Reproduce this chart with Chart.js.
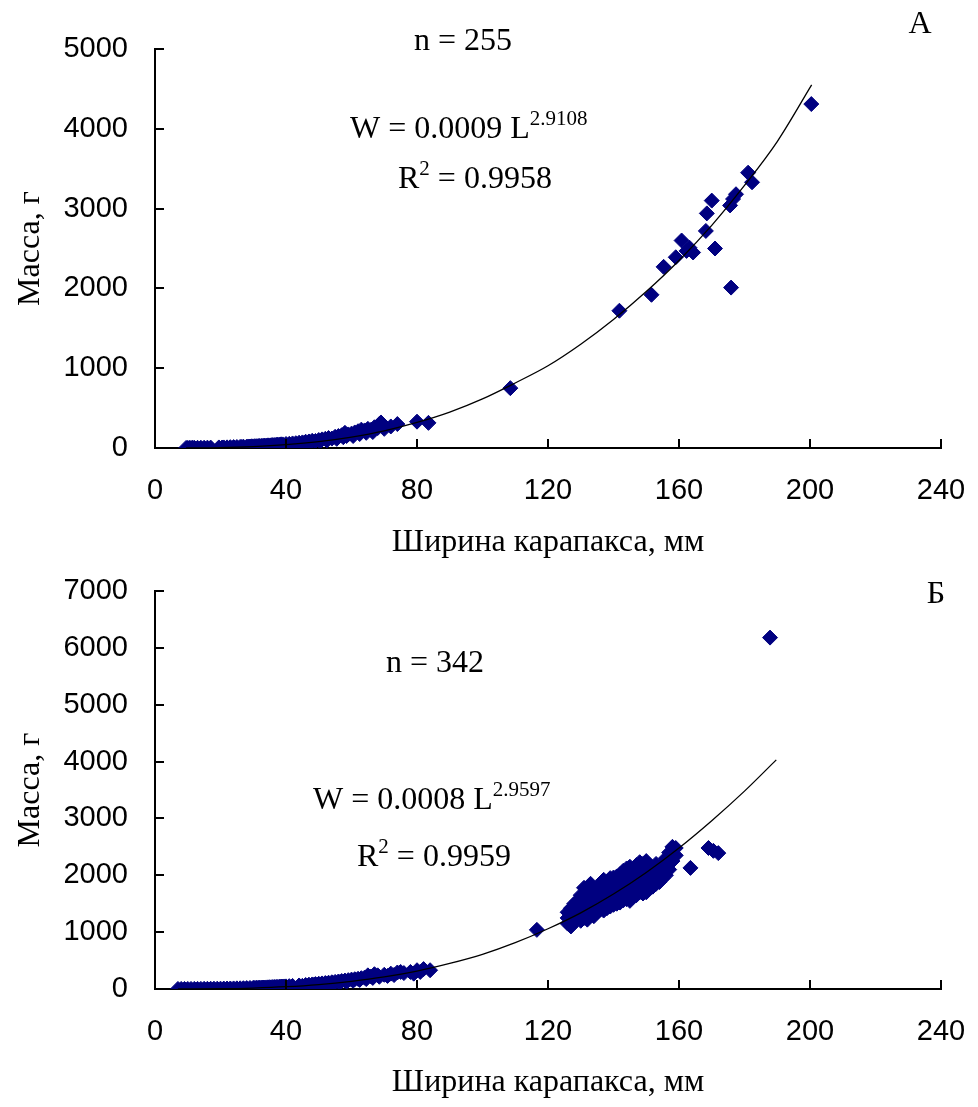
<!DOCTYPE html>
<html>
<head>
<meta charset="utf-8">
<script src="https://cdn.jsdelivr.net/npm/chart.js@4.4.0/dist/chart.umd.min.js"></script>
<style>
  html, body { margin: 0; padding: 0; background: #fff; }
  canvas { display: block; }
</style>
</head>
<body>
<canvas id="chartA" width="978" height="565"></canvas>
<canvas id="chartB" width="978" height="542"></canvas>
<script>
// Panel А: carapace width (mm) vs mass (g), n = 255
const widthA = [
  9.5, 10, 10.5, 11, 11.5, 12, 13, 14, 15, 16,
  17, 19.5, 20.5, 21, 22, 23, 24, 25, 26, 26.5,
  27, 28, 28.5, 29, 29.5, 30, 30.5, 31, 31.5, 32,
  32.5, 33, 33.5, 34, 34.5, 35, 35.5, 36, 36.5, 37,
  37.5, 38, 38.5, 39, 40, 41, 42, 43, 44, 45,
  45.5, 46, 47, 47.5, 48, 49, 50, 50.5, 51, 52,
  52.5, 53, 54, 55, 55.5, 56, 57, 57.5, 58, 58.5,
  59, 60, 60.5, 61, 62, 62.5, 63, 64, 64.5, 65,
  66, 66.5, 67, 68, 68.5, 69, 70, 72, 74, 80,
  83.5, 108.5, 141.8, 151.6, 155.3, 159, 160.8, 163.2, 164.3, 162.3,
  168.2, 168.5, 170, 171, 175.9, 175.6, 176.5, 177.4, 181.1, 182.3,
  200.4
];
const massA = [
  1, 1, 1, 1, 2, 2, 2, 3, 3, 4,
  5, 7, 6, 7, 8, 10, 11, 12, 14, 13,
  16, 17, 19, 18, 21, 20, 23, 22, 24, 26,
  25, 28, 30, 29, 33, 32, 35, 37, 36, 40,
  42, 41, 46, 45, 50, 52, 57, 60, 66, 70,
  60, 78, 82, 70, 90, 88, 100, 85, 108, 115,
  95, 125, 118, 140, 115, 150, 160, 135, 190, 150,
  170, 180, 150, 195, 210, 175, 230, 220, 190, 240,
  230, 200, 260, 250, 300, 320, 240, 270, 300, 330,
  315, 750, 1720, 1920, 2270, 2390, 2600, 2510, 2450, 2470,
  2720, 2940, 3100, 2500, 2010, 3040, 3120, 3180, 3450, 3330,
  4310
];
// power trend W = 0.0009 L^2.9108
const trendWidthA = [9.5, 20, 30, 40, 50, 60, 70, 80, 90, 100, 110, 120, 130, 140, 150, 160, 170, 180, 190, 200.5];
const trendMassA  = [1, 5, 18, 42, 80, 137, 215, 320, 450, 615, 815, 1030, 1300, 1610, 1960, 2350, 2790, 3290, 3840, 4550];

// Panel Б: n = 342
const widthB = [
  7, 8, 9, 10, 11, 12, 13, 14, 15, 16,
  17, 18, 19, 20, 21, 22, 23, 24, 25, 26,
  27, 28, 29, 30, 30.5, 31, 31.5, 32, 32.5, 33,
  33.5, 34, 34.5, 35, 35.5, 36, 36.5, 37, 37.5, 38,
  38.5, 39, 39.5, 40, 41, 42, 44, 45, 46, 47,
  48, 48.5, 49, 50, 50.5, 51, 52, 52.5, 53, 54,
  54.5, 55, 56, 56.5, 57, 58, 58.5, 59, 60, 60.5,
  61, 62, 62.5, 63, 64, 64.5, 65, 66, 66.5, 67,
  68, 68.5, 70, 71, 72, 73, 74, 75, 76, 78,
  79, 80, 81, 82, 84, 116.6,
  163.5, 169, 170.5, 172, 187.8
];
const massB = [
  1, 1, 1, 1, 1, 2, 2, 2, 3, 3,
  4, 5, 5, 6, 7, 8, 9, 10, 11, 12,
  14, 16, 18, 20, 19, 22, 21, 24, 23, 26,
  25, 28, 29, 31, 30, 34, 33, 37, 36, 40,
  42, 43, 45, 46, 50, 54, 62, 55, 70, 76,
  80, 72, 86, 92, 80, 98, 104, 90, 110, 118,
  100, 125, 132, 120, 140, 148, 130, 156, 165, 145,
  172, 180, 160, 190, 200, 175, 240, 220, 195, 260,
  240, 215, 250, 230, 270, 245, 290, 300, 280, 300,
  270, 330, 300, 350, 330, 1040,
  2130, 2480, 2430, 2390, 6180
];
// dense group of large crabs, 126–159 mm
const clusterWidthB = [126, 127, 128, 129, 130, 131, 132, 133, 134, 135, 136, 137, 138, 139, 140, 141, 142,
  143, 144, 145, 146, 147, 148, 149, 150, 151, 152, 153, 154, 155, 156, 157, 158, 159];
const clusterMassB = [
  [1150, 1250, 1350],
  [1100, 1200, 1300, 1420],
  [1180, 1280, 1380, 1500],
  [1250, 1350, 1450, 1550],
  [1200, 1300, 1400, 1520, 1650],
  [1250, 1350, 1480, 1600, 1780],
  [1220, 1320, 1420, 1550, 1700],
  [1300, 1400, 1500, 1620, 1760, 1850],
  [1280, 1380, 1480, 1580, 1700],
  [1350, 1450, 1560, 1680, 1800],
  [1400, 1500, 1600, 1720, 1850],
  [1380, 1480, 1580, 1700, 1820, 1920],
  [1420, 1520, 1640, 1760, 1880],
  [1450, 1560, 1680, 1800, 1950],
  [1480, 1600, 1720, 1840, 1960],
  [1500, 1620, 1740, 1860, 1980],
  [1520, 1650, 1780, 1900, 2020],
  [1560, 1680, 1800, 1920, 2080],
  [1580, 1700, 1820, 1950, 2120],
  [1550, 1680, 1800, 1930, 2060, 2150],
  [1620, 1750, 1880, 2000],
  [1650, 1780, 1900, 2040, 2180],
  [1700, 1820, 1940, 2080, 2230],
  [1680, 1800, 1920, 2050, 2200],
  [1700, 1850, 1980, 2120, 2250],
  [1780, 1900, 2050, 2180],
  [1800, 1950, 2080],
  [1850, 1980, 2100, 2200],
  [1880, 2000, 2150],
  [1950, 2050, 2180],
  [2000, 2150, 2300],
  [2100, 2250, 2400],
  [2250, 2380, 2500],
  [2350, 2480]
];
// power trend W = 0.0008 L^2.9597
const trendWidthB = [7, 20, 30, 40, 50, 60, 70, 80, 90, 100, 110, 120, 130, 140, 150, 160, 170, 180, 189.7];
const trendMassB  = [0, 5, 17, 40, 78, 135, 212, 315, 450, 610, 815, 1060, 1340, 1670, 2050, 2480, 2960, 3480, 4030];

const xTicks = [0, 40, 80, 120, 160, 200, 240];

const NAVY = '#000080';
const SERIF = '"Liberation Serif", "Times New Roman", serif';
const SANS = '"Liberation Sans", Arial, sans-serif';

function pairs(xs, ys) {
  return xs.map((x, i) => ({x: x, y: ys[i]}));
}

// tick marks point into the plot area
const inwardTicks = {
  id: 'inwardTicks',
  afterDraw(chart) {
    const {ctx, chartArea, scales} = chart;
    ctx.save();
    ctx.strokeStyle = '#000';
    ctx.lineWidth = 2;
    ctx.beginPath();
    scales.x.ticks.forEach(t => {
      const px = Math.round(scales.x.getPixelForValue(t.value));
      ctx.moveTo(px, chartArea.bottom);
      ctx.lineTo(px, chartArea.bottom - 9);
    });
    scales.y.ticks.forEach(t => {
      const py = Math.round(scales.y.getPixelForValue(t.value));
      ctx.moveTo(chartArea.left, py);
      ctx.lineTo(chartArea.left + 9, py);
    });
    ctx.stroke();
    ctx.restore();
  }
};

// free text: sample size, fitted equation, panel letter
const notes = {
  id: 'notes',
  afterDraw(chart, args, opts) {
    const ctx = chart.ctx;
    const main = '32px ' + SERIF;
    const small = '21px ' + SERIF;
    ctx.save();
    ctx.fillStyle = '#000';
    ctx.textBaseline = 'alphabetic';
    ctx.textAlign = 'left';
    (opts.items || []).forEach(item => {
      let total = 0;
      item.parts.forEach(p => {
        ctx.font = p[1] ? small : main;
        total += ctx.measureText(p[0]).width;
      });
      let x = item.align === 'center' ? item.x - total / 2 : item.x;
      item.parts.forEach(p => {
        ctx.font = p[1] ? small : main;
        ctx.fillText(p[0], x, p[1] ? item.y - 13 : item.y);
        x += ctx.measureText(p[0]).width;
      });
    });
    ctx.restore();
  }
};

function makeChart(id, points, trend, yMax, area, xTitlePad, noteItems) {
  const canvas = document.getElementById(id);
  const H = canvas.height;
  return new Chart(canvas, {
    type: 'scatter',
    data: {
      datasets: [
        {
          type: 'line',
          data: trend,
          borderColor: '#000',
          borderWidth: 1.3,
          pointRadius: 0,
          fill: false,
          cubicInterpolationMode: 'monotone',
          order: 0
        },
        {
          data: points,
          pointStyle: 'rectRot',
          pointRadius: 7.5,
          backgroundColor: NAVY,
          borderColor: NAVY,
          borderWidth: 1,
          order: 1
        }
      ]
    },
    options: {
      responsive: false,
      animation: false,
      layout: { padding: { top: area.top, right: 978 - area.right, left: 0, bottom: 0 } },
      plugins: {
        legend: { display: false },
        tooltip: { enabled: false },
        notes: { items: noteItems }
      },
      scales: {
        x: {
          type: 'linear',
          min: 0,
          max: 240,
          afterBuildTicks: scale => { scale.ticks = xTicks.map(v => ({value: v})); },
          afterFit: scale => {
            scale.height = H - area.bottom;
            scale.paddingLeft = 0;
            scale.paddingRight = 0;
          },
          grid: { display: false, drawTicks: false },
          border: { display: true, color: '#000', width: 2 },
          ticks: { color: '#000', padding: 26, font: { family: SANS, size: 29 }, callback: v => String(v) },
          title: {
            display: true,
            text: 'Ширина карапакса, мм',
            color: '#000',
            font: { family: SERIF, size: 32 },
            padding: { top: 0, bottom: xTitlePad }
          }
        },
        y: {
          min: 0,
          max: yMax,
          afterFit: scale => {
            scale.width = area.left;
            scale.paddingTop = 0;
            scale.paddingBottom = 0;
          },
          grid: { display: false, drawTicks: false },
          border: { display: true, color: '#000', width: 2 },
          ticks: { color: '#000', stepSize: 1000, padding: 27, font: { family: SANS, size: 29 }, callback: v => String(v) },
          title: {
            display: true,
            text: 'Масса, г',
            color: '#000',
            font: { family: SERIF, size: 32 },
            padding: { top: 11, bottom: 0 }
          }
        }
      }
    },
    plugins: [inwardTicks, notes]
  });
}

const pointsA = pairs(widthA, massA);
const pointsB = pairs(widthB, massB);
clusterWidthB.forEach((w, i) => {
  clusterMassB[i].forEach(m => pointsB.push({x: w, y: m}));
});

makeChart('chartA', pointsA, pairs(trendWidthA, trendMassA), 5000,
  { left: 155, right: 941, top: 49, bottom: 448 }, 3, [
    { x: 463, y: 50, align: 'center', parts: [['n = 255']] },
    { x: 350, y: 138, parts: [['W = 0.0009 L'], ['2.9108', true]] },
    { x: 398, y: 188, parts: [['R'], ['2', true], [' = 0.9958']] },
    { x: 920, y: 33, align: 'center', parts: [['А']] }
  ]);

makeChart('chartB', pointsB, pairs(trendWidthB, trendMassB), 7000,
  { left: 155, right: 941, top: 26, bottom: 424 }, 5, [
    { x: 435, y: 107, align: 'center', parts: [['n = 342']] },
    { x: 313, y: 244, parts: [['W = 0.0008 L'], ['2.9597', true]] },
    { x: 357, y: 301, parts: [['R'], ['2', true], [' = 0.9959']] },
    { x: 936, y: 38, align: 'center', parts: [['Б']] }
  ]);
</script>
</body>
</html>
